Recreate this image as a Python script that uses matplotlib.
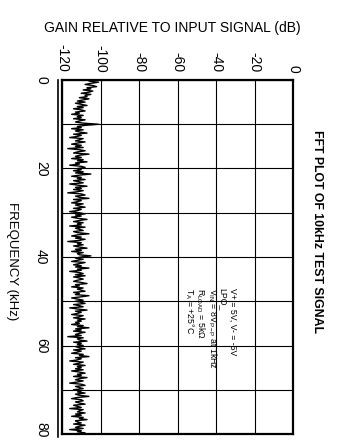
import matplotlib
matplotlib.use("Agg")
import matplotlib.pyplot as plt
from matplotlib.lines import Line2D
from matplotlib.transforms import ScaledTranslation
import numpy as np

plt.rcParams['font.family'] = ['Liberation Sans Narrow', 'Liberation Sans', 'DejaVu Sans']
plt.rcParams['mathtext.fontset'] = 'custom'
plt.rcParams['mathtext.rm'] = 'Liberation Sans'
plt.rcParams['mathtext.it'] = 'Liberation Sans'

# Data: frequency (kHz) sampled every 0.25 kHz, gain (dB)
freq_step_khz = 0.25
gain_db = [
    -103, -106, -101, -105, -108, -104, -102, -107, -105, -109, -104, -106, -110, -105, -108, -107, -111, -106, -109, -112,
    -108, -113, -110, -107, -112, -109, -114, -110, -108, -113, -111, -115, -109, -112, -110, -114, -108, -111, -113, -109,
    -101, -108, -112, -110, -115, -109, -113, -111, -107, -114, -110, -112, -116, -109, -111, -113, -108, -112, -115, -110,
    -113, -109, -117, -111, -108, -112, -114, -106, -111, -113, -110, -115, -109, -112, -107, -113, -111, -116, -110, -108,
    -112, -110, -114, -109, -113, -105, -111, -115, -110, -112, -108, -114, -111, -109, -116, -112, -107, -113, -110, -114,
    -109, -112, -117, -110, -108, -113, -111, -106, -114, -110, -112, -115, -109, -113, -111, -108, -114, -110, -112, -116,
    -111, -108, -113, -110, -115, -112, -107, -111, -114, -109, -112, -110, -116, -108, -113, -111, -109, -114, -112, -106,
    -112, -115, -110, -113, -108, -111, -117, -110, -112, -109, -114, -111, -107, -113, -110, -115, -109, -112, -111, -105,
    -110, -113, -109, -112, -115, -108, -111, -114, -110, -113, -106, -112, -110, -116, -111, -109, -113, -108, -114, -111,
    -109, -112, -114, -110, -107, -113, -111, -115, -109, -112, -110, -108, -114, -111, -113, -106, -110, -115, -112, -109,
    -113, -110, -108, -114, -111, -109, -116, -112, -107, -113, -110, -112, -115, -109, -111, -114, -108, -112, -110, -113,
    -111, -115, -109, -112, -106, -113, -110, -114, -108, -111, -113, -110, -117, -109, -112, -111, -107, -114, -110, -112,
    -109, -113, -111, -108, -114, -110, -112, -115, -109, -111, -106, -113, -110, -112, -116, -109, -111, -114, -108, -112,
    -110, -113, -109, -115, -111, -108, -112, -110, -114, -107, -111, -113, -109, -112, -116, -110, -108, -113, -111, -109,
    -114, -110, -112, -108, -113, -111, -106, -112, -115, -110, -109, -113, -111, -108, -114, -112, -110, -116, -109, -111,
    -112, -108, -113, -110, -115, -109, -111, -107, -113, -112, -110, -114, -108, -111, -113, -109, -116, -110, -112, -108,
    -111,
]
freq_khz = np.arange(len(gain_db)) * freq_step_khz

db_ticks = [-120, -100, -80, -60, -40, -20, 0]
freq_ticks = [0, 20, 40, 60, 80]
freq_grid = [10, 30, 50, 70]

W, H = 338, 440
fig = plt.figure(figsize=(W / 100, H / 100), dpi=100)
L, R, T, B = 62, 293, 80, 434
ax = fig.add_axes([L / W, 1 - B / H, (R - L) / W, (B - T) / H])

ax.plot(gain_db, freq_khz, color='black', lw=1.0)
ax.set_xlim(-120, 0)
ax.set_ylim(80, 0)

ax.xaxis.tick_top()
ax.set_xticks(db_ticks)
ax.set_xticklabels([str(v) for v in db_ticks], rotation=-90, fontsize=10)
ax.set_yticks(freq_ticks)
ax.set_yticks(freq_grid, minor=True)
ax.set_yticklabels([str(v) for v in freq_ticks], rotation=-90, fontsize=10, va='center')
ax.tick_params(axis='x', length=0, pad=5.5)
ax.tick_params(axis='y', which='both', length=0, pad=10)

# nudge the last frequency label up so it stays inside the figure
last = ax.get_yticklabels()[-1]
last.set_transform(last.get_transform() + ScaledTranslation(0, 4 / 100, fig.dpi_scale_trans))

ax.grid(True, which='major', axis='x', color='black', lw=0.8)
ax.grid(True, which='both', axis='y', color='black', lw=0.8)
ax.set_axisbelow(True)
for s in ax.spines.values():
    s.set_linewidth(1.6)

# outer frame line on the left
ax.add_line(Line2D([-0.017, -0.017], [-0.008, 1.0], transform=ax.transAxes,
                   color='black', lw=1.2, clip_on=False))

fig.text(172 / W, 1 - 28 / H, 'GAIN RELATIVE TO INPUT SIGNAL (dB)',
         ha='center', va='center', fontsize=10)
fig.text(12 / W, 1 - 261 / H, 'FREQUENCY (kHz)', rotation=-90,
         ha='center', va='center', fontsize=9.5)
fig.text(317 / W, 1 - 232 / H, 'FFT PLOT OF 10kHz TEST SIGNAL', rotation=-90,
         ha='center', va='center', fontsize=8.8, fontweight='bold')

notes = [
    (233, 'V+ = 5V, V- = -5V'),
    (222.5, 'LPO_'),
    (212, r'V$_{\rm IN}$ = 8V$_{\rm P-P}$ at 1kHz'),
    (200.5, r'R$_{\rm LOAD}$ = 5k$\Omega$'),
    (189, r'T$_{\rm A}$ = +25$\degree$C'),
]
for x, s in notes:
    fig.text(x / W, 1 - 288 / H, s, rotation=-90, ha='center', va='top', fontsize=6.3)

fig.savefig('out.png', dpi=100)
